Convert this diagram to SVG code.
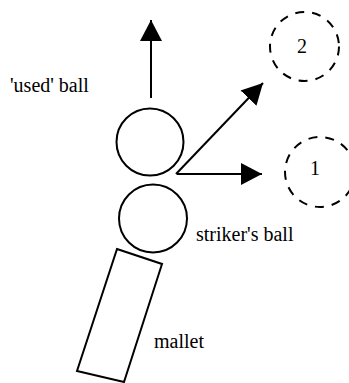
<svg xmlns="http://www.w3.org/2000/svg" width="349" height="383" viewBox="0 0 349 383">
  <defs>
    <marker id="head" markerUnits="userSpaceOnUse" markerWidth="22" markerHeight="24" refX="21" refY="11" orient="auto" viewBox="0 0 22 22">
      <path d="M0,0 L21,11 L0,22 Z" fill="#000"/>
    </marker>
  </defs>
  <rect width="349" height="383" fill="#fff"/>

  <!-- motion arrows -->
  <g id="connectors" fill="none" stroke="#000" stroke-width="2" marker-end="url(#head)">
    <line x1="151" y1="98" x2="151" y2="20"/>
    <line x1="176" y1="174" x2="263" y2="83"/>
    <line x1="177" y1="174" x2="262" y2="174"/>
  </g>

  <g id="used-ball">
    <circle cx="150" cy="142" r="33.5" fill="none" stroke="#000" stroke-width="2"/>
    <text x="10" y="92" style="font-family:'Liberation Serif';font-size:20px">'used' ball</text>
  </g>

  <g id="strikers-ball">
    <circle cx="153" cy="218.5" r="34" fill="none" stroke="#000" stroke-width="2"/>
    <text x="196" y="241" style="font-family:'Liberation Serif';font-size:20px">striker's ball</text>
  </g>

  <g id="mallet">
    <polygon points="117,249 162,264 124,382 77,371" fill="none" stroke="#000" stroke-width="2"/>
    <text x="154" y="348" style="font-family:'Liberation Serif';font-size:20px">mallet</text>
  </g>

  <g id="position-2">
    <circle cx="304.5" cy="46.5" r="34.5" fill="none" stroke="#000" stroke-width="2" stroke-dasharray="9 8"/>
    <text x="297" y="53" style="font-family:'Liberation Serif';font-size:20px">2</text>
  </g>

  <g id="position-1">
    <circle cx="320" cy="172" r="35" fill="none" stroke="#000" stroke-width="2" stroke-dasharray="9 8"/>
    <text x="310" y="175" style="font-family:'Liberation Serif';font-size:20px">1</text>
  </g>
</svg>
